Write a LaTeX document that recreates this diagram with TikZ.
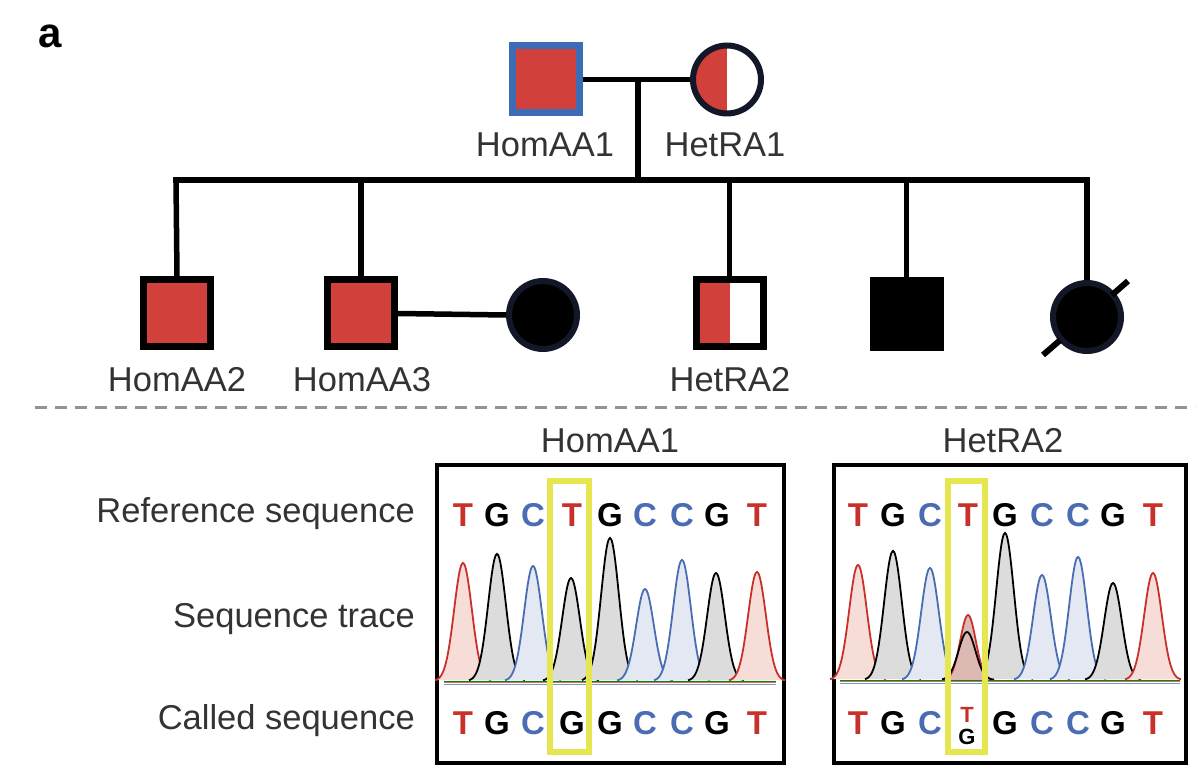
\documentclass[tikz,border=0pt]{standalone}
\usepackage{fontspec}
\setmainfont{Liberation Sans}
\usetikzlibrary{calc}
\definecolor{pedred}{HTML}{D1403A}
\definecolor{pedblue}{HTML}{3B6CB5}
\definecolor{navy}{HTML}{121828}
\definecolor{lblgray}{HTML}{333333}
\definecolor{seqred}{HTML}{C8302A}
\definecolor{seqblue}{HTML}{4A6CB2}
\definecolor{hiyel}{HTML}{E6E650}
\definecolor{tfill}{HTML}{F6DDD8}
\definecolor{gfill}{HTML}{DCDCDC}
\definecolor{cfill}{HTML}{E3E8F3}
\definecolor{tgfill}{HTML}{DDB9B4}
\tikzset{
  lbl/.style={text=lblgray,font=\fontsize{34.5}{40}\selectfont,inner sep=0pt},
  rowlbl/.style={lbl,anchor=east},
  sq/.style={draw=black,line width=7pt,minimum size=67pt,inner sep=0pt,rectangle},
  circ/.style={draw=navy,line width=6pt,minimum size=68pt,inner sep=0pt,circle},
  link/.style={line width=5.5pt,draw=black},
  seqbox/.style={draw=black,line width=4pt,inner sep=0pt,rectangle},
  base/.style={font=\fontsize{33}{36}\selectfont\bfseries,inner sep=0pt},
  small/.style={font=\fontsize{22}{24}\selectfont\bfseries,inner sep=0pt},
  bT/.style={base,text=seqred},
  bG/.style={base,text=black},
  bC/.style={base,text=seqblue},
  hibox/.style={draw=hiyel,line width=6pt},
  pk/.style={line width=1.8pt},
}
\begin{document}
\begin{tikzpicture}[x=1pt,y=-1pt]
\useasboundingbox (0,0) rectangle (1200,783);
\node[font=\fontsize{42}{44}\selectfont\bfseries,anchor=base west,inner sep=0pt] (panel) at (38,48) {a};

% ---------- pedigree ----------
\node[sq,draw=pedblue,fill=pedred] (homaa1) at (545.5,79.5) {};
\node[circ,path picture={\fill[pedred] (path picture bounding box.north west) rectangle (path picture bounding box.south);}] (hetra1) at (727,79.5) {};
\node[sq,fill=pedred] (homaa2) at (177,313.5) {};
\node[sq,fill=pedred] (homaa3) at (361,313.5) {};
\node[circ,fill=black] (wife) at (543,315) {};
\node[sq,path picture={\fill[pedred] (path picture bounding box.north west) rectangle (path picture bounding box.south);}] (hetra2) at (729.5,313.5) {};
\node[sq,fill=black] (aff) at (906.5,314) {};
\node[circ,fill=black] (dec) at (1087,317) {};
\draw[line width=6pt] ($(dec.center)+(-44,38)$) -- ($(dec.center)+(-27,23.3)$);
\draw[line width=6pt] ($(dec.center)+(41,-36)$) -- ($(dec.center)+(25,-22)$);

\coordinate (mid) at (638,79.5);
\coordinate (sibL) at (176,180);
\coordinate (sibR) at (1087,180);
\coordinate (sibM) at (638,180);
\draw[link] (homaa1.east) -- (hetra1.west);
\draw[link] (mid) -- (sibM);
\draw[link,line cap=rect] (sibL) -- (sibR);
\draw[link] (sibL) -- (homaa2.north);
\draw[link] (homaa3.north |- sibL) -- (homaa3.north);
\draw[link] (hetra2.north |- sibL) -- (hetra2.north);
\draw[link] (aff.north |- sibL) -- (aff.north);
\draw[link] (sibR) -- (dec.north);
\draw[link] (homaa3.east) -- (wife.west);

\node[lbl] (l1) at (545,145) {HomAA1};
\node[lbl] (l2) at (725,145) {HetRA1};
\node[lbl] (l3) at (177,380) {HomAA2};
\node[lbl] (l4) at (362,380) {HomAA3};
\node[lbl] (l5) at (730,380) {HetRA2};

% ---------- separator ----------
\draw[draw=gray!85,line width=3pt,dash pattern=on 12pt off 8pt] (35,408) -- (1195,408);

% ---------- sequence panels ----------
\node[lbl] (t1) at (610,441) {HomAA1};
\node[lbl] (t2) at (1003,441) {HetRA2};
\node[rowlbl] (r1) at (415,514) {Reference sequence};
\node[rowlbl] (r2) at (415,619) {Sequence trace};
\node[rowlbl] (r3) at (415,721) {Called sequence};

\node[seqbox,minimum width=347pt,minimum height=298pt] (box1) at (610.5,614) {};
\node[seqbox,minimum width=352pt,minimum height=298pt] (box2) at (1010,614) {};

% peaks box 1
\foreach \c/\tp/\fc/\sc in {463/563/tfill/seqred, 497/554/gfill/black, 533/566/cfill/seqblue, 571/578/gfill/black, 610/538/gfill/black, 645/589/cfill/seqblue, 682/560/cfill/seqblue, 716/573/gfill/black, 757/572/tfill/seqred}{
  \filldraw[pk,fill=\fc,draw=\sc] plot[domain=\c-28:\c+28,samples=45,smooth] (\x,{681-(681-\tp)*exp(-((\x-\c)/12.5)^2)});
}
\draw[green!55!black,line width=1pt] (444,681) -- (776,681);
\draw[seqred!70,line width=1pt] (444,682.5) -- (776,682.5);
\draw[seqblue!70,line width=1pt] (444,684) -- (776,684);

% peaks box 2
\foreach \c/\tp/\fc/\sc in {858/565/tfill/seqred, 893/551/gfill/black, 930/568/cfill/seqblue, 1005/533/gfill/black, 1042/575/cfill/seqblue, 1078/557/cfill/seqblue, 1113/583/gfill/black, 1153/573/tfill/seqred}{
  \filldraw[pk,fill=\fc,draw=\sc] plot[domain=\c-28:\c+28,samples=45,smooth] (\x,{680-(680-\tp)*exp(-((\x-\c)/12.5)^2)});
}
\filldraw[pk,fill=tgfill,draw=seqred] plot[domain=942:994,samples=45,smooth] (\x,{680-(680-615)*exp(-((\x-968)/11)^2)});
\draw[pk,draw=black] plot[domain=942:994,samples=45,smooth] (\x,{680-(680-632)*exp(-((\x-967)/12)^2)});
\draw[green!55!black,line width=1pt] (840,680) -- (1180,680);
\draw[seqred!70,line width=1pt] (840,681.5) -- (1180,681.5);
\draw[seqblue!70,line width=1pt] (840,683) -- (1180,683);

% letters box 1
\foreach \xx/\l/\s in {463/T/bT,497/G/bG,533/C/bC,572/T/bT,610/G/bG,645/C/bC,682/C/bC,717/G/bG,757/T/bT}{
  \node[\s] at (\xx,515) {\l};
}
\foreach \xx/\l/\s in {463/T/bT,497/G/bG,533/C/bC,572/G/bG,610/G/bG,645/C/bC,682/C/bC,717/G/bG,757/T/bT}{
  \node[\s] at (\xx,723) {\l};
}
% letters box 2
\foreach \xx/\l/\s in {858/T/bT,893/G/bG,930/C/bC,968/T/bT,1005/G/bG,1042/C/bC,1078/C/bC,1113/G/bG,1153/T/bT}{
  \node[\s] at (\xx,515) {\l};
}
\foreach \xx/\l/\s in {858/T/bT,893/G/bG,930/C/bC,1005/G/bG,1042/C/bC,1078/C/bC,1113/G/bG,1153/T/bT}{
  \node[\s] at (\xx,723) {\l};
}
\node[small,text=seqred] (ct) at (967,715) {T};
\node[small,text=black] (cg) at (967,737) {G};

% highlight boxes
\draw[hibox] (550,481) rectangle (589,752);
\draw[hibox] (948,481) rectangle (985,752);
\end{tikzpicture}
\end{document}
